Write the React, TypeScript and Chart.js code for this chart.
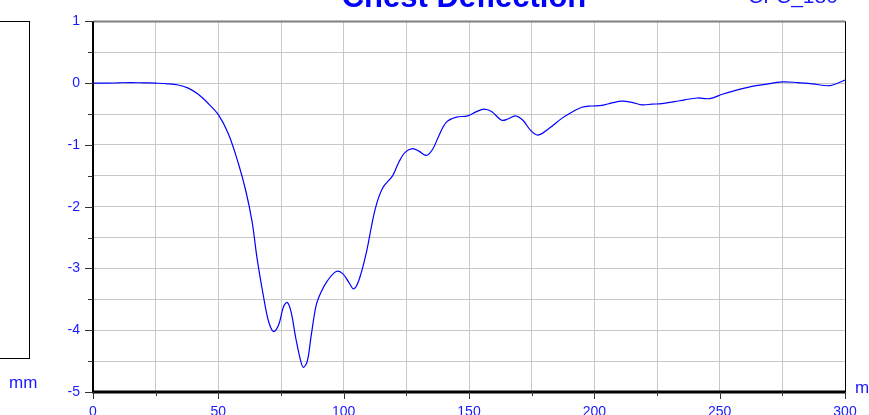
import React, { useEffect, useRef } from "react";
import { Chart, registerables } from "chart.js";

Chart.register(...registerables);

const timeMs = [0, 5, 10, 15, 20, 25, 30, 34, 38, 42, 46, 50, 54, 58, 61, 63.5, 65.5, 68, 70, 72, 74, 76, 77.5, 79, 81, 83, 84, 85.5, 87, 89, 91, 93.5, 97, 99.5, 102, 104, 106, 109, 112.5, 115.5, 119.5, 122, 124.5, 127.5, 130, 133, 135.5, 138, 141, 145, 149.5, 153, 156, 159, 163, 165.5, 168.5, 171.5, 174.5, 177.5, 182, 187, 191, 195, 199, 203, 207, 211, 215, 219, 223, 227, 232, 236, 241, 246, 251, 256, 262, 268, 275, 281, 287, 294, 300];
const deflectionMm = [0, 0, 0.005, 0.01, 0.005, 0, -0.01, -0.03, -0.08, -0.18, -0.33, -0.51, -0.82, -1.3, -1.75, -2.25, -2.85, -3.45, -3.85, -4.02, -3.92, -3.62, -3.55, -3.7, -4.15, -4.52, -4.6, -4.5, -4.1, -3.6, -3.38, -3.2, -3.05, -3.08, -3.22, -3.33, -3.2, -2.75, -2.05, -1.7, -1.5, -1.28, -1.12, -1.06, -1.1, -1.17, -1.07, -0.85, -0.63, -0.55, -0.53, -0.46, -0.42, -0.46, -0.6, -0.58, -0.53, -0.6, -0.76, -0.84, -0.73, -0.57, -0.47, -0.39, -0.37, -0.36, -0.32, -0.29, -0.31, -0.35, -0.34, -0.33, -0.3, -0.27, -0.24, -0.25, -0.18, -0.12, -0.06, -0.02, 0.02, 0.01, -0.01, -0.04, 0.05];

const xTicks = [0, 25, 50, 75, 100, 125, 150, 175, 200, 225, 250, 275, 300];
const yTicks = [1, 0.5, 0, -0.5, -1, -1.5, -2, -2.5, -3, -3.5, -4, -4.5, -5];

const titleText = "Chest Deflection";
const filterText = "CFC_180";
const yUnit = "mm";
const xUnit = "ms";

const BLUE = "#1a1aff";
const FONT = "'Liberation Sans', Arial, sans-serif";

const decorPlugin = {
  id: "decor",
  afterDraw(chart: any) {
    const { ctx, chartArea: a, scales } = chart;
    const xs = scales.x;
    const ys = scales.y;
    ctx.save();
    ctx.strokeStyle = "#808080";
    ctx.lineWidth = 2;
    ctx.beginPath();
    ctx.moveTo(a.left, a.top);
    ctx.lineTo(a.right, a.top);
    ctx.stroke();
    ctx.strokeStyle = "#000";
    ctx.lineWidth = 1;
    ctx.beginPath();
    ctx.moveTo(a.right + 0.5, a.top);
    ctx.lineTo(a.right + 0.5, a.bottom);
    ctx.stroke();
    ctx.lineWidth = 2;
    ctx.beginPath();
    ctx.moveTo(a.left, a.top);
    ctx.lineTo(a.left, a.bottom);
    ctx.stroke();
    ctx.lineWidth = 3;
    ctx.beginPath();
    ctx.moveTo(a.left - 1, a.bottom);
    ctx.lineTo(a.right + 1, a.bottom);
    ctx.stroke();
    ctx.lineWidth = 1;
    ctx.strokeStyle = "#333";
    xTicks.forEach((v) => {
      const px = Math.round(xs.getPixelForValue(v)) + 0.5;
      const len = v % 50 === 0 ? 7 : 4;
      ctx.beginPath();
      ctx.moveTo(px, a.bottom);
      ctx.lineTo(px, a.bottom + len);
      ctx.stroke();
    });
    yTicks.forEach((v) => {
      const py = Math.round(ys.getPixelForValue(v)) + 0.5;
      const len = Number.isInteger(v) ? 8 : 5;
      ctx.beginPath();
      ctx.moveTo(a.left - len, py);
      ctx.lineTo(a.left, py);
      ctx.stroke();
    });
    ctx.fillStyle = "#0000ff";
    ctx.font = `bold 31px ${FONT}`;
    ctx.textAlign = "center";
    ctx.textBaseline = "alphabetic";
    ctx.fillText(titleText, 464, 7);
    ctx.font = `21px ${FONT}`;
    ctx.textAlign = "left";
    ctx.fillStyle = BLUE;
    ctx.fillText(filterText, 748, 3);
    ctx.font = `17px ${FONT}`;
    ctx.fillText(yUnit, 9, 388);
    ctx.fillText(xUnit, 855, 393);
    ctx.strokeStyle = "#000";
    ctx.lineWidth = 1;
    ctx.strokeRect(-20.5, 21.5, 50, 337);
    ctx.restore();
  },
};

export default function App() {
  const ref = useRef<HTMLCanvasElement>(null);
  useEffect(() => {
    if (!ref.current) return;
    const chart = new Chart(ref.current, {
      type: "line",
      data: {
        datasets: [
          {
            data: timeMs.map((t, i) => ({ x: t, y: deflectionMm[i] })),
            borderColor: "#0000ff",
            borderWidth: 1.2,
            pointRadius: 0,
            tension: 0.35,
            fill: false,
          },
        ],
      },
      options: {
        animation: false,
        responsive: false,
        maintainAspectRatio: false,
        layout: { padding: { left: 0, top: 19, right: 24, bottom: 0 } },
        plugins: { legend: { display: false }, tooltip: { enabled: false }, title: { display: false } },
        scales: {
          x: {
            type: "linear",
            min: 0,
            max: 300,
            afterBuildTicks: (s: any) => {
              s.ticks = xTicks.map((v) => ({ value: v }));
            },
            afterFit: (s: any) => {
              s.height = 23;
            },
            ticks: {
              autoSkip: false,
              maxRotation: 0,
              padding: 12,
              color: BLUE,
              font: { family: FONT, size: 14 },
              callback: (v: any) => (Number(v) % 50 === 0 ? String(v) : ""),
            },
            grid: { color: "#c8c8c8", lineWidth: 1, drawTicks: false },
            border: { display: false },
          },
          y: {
            type: "linear",
            min: -5,
            max: 1,
            afterBuildTicks: (s: any) => {
              s.ticks = yTicks.map((v) => ({ value: v }));
            },
            afterFit: (s: any) => {
              s.width = 93;
            },
            ticks: {
              autoSkip: false,
              padding: 13,
              color: BLUE,
              font: { family: FONT, size: 14 },
              callback: (v: any) => (Number.isInteger(Number(v)) ? String(v) : ""),
            },
            grid: { color: "#c8c8c8", lineWidth: 1, drawTicks: false },
            border: { display: false },
          },
        },
      },
      plugins: [decorPlugin],
    } as any);
    return () => chart.destroy();
  }, []);
  return (
    <div style={{ position: "fixed", left: 0, top: 0, width: 869, height: 415, background: "#fff" }}>
      <canvas ref={ref} width={869} height={415} style={{ display: "block", width: 869, height: 415 }} />
    </div>
  );
}
